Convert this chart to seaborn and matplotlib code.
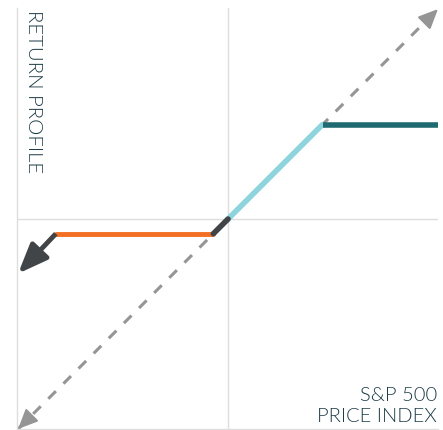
import matplotlib
matplotlib.use("Agg")
import matplotlib.pyplot as plt
import seaborn as sns
import pandas as pd

# ---- data ----
diag_x = [-100, 100]
diag_y = [-100, 100]
floor_x = [-82, -7]
floor_y = [-7, -7]
buffer_x = [-7, 0]
buffer_y = [-7, 0]
upside_x = [0, 45]
upside_y = [0, 45]
cap_x = [45, 100]
cap_y = [45, 45]
down_arrow_start = (-82, -7)
down_arrow_tip = (-100, -26)
y_label = "RETURN PROFILE"
x_label = "S&P 500\nPRICE INDEX"

sns.set_theme(style="white")
plt.rcParams['font.family'] = ['Lato', 'DejaVu Sans']

fig = plt.figure(figsize=(4.43, 4.30), dpi=100)
ax = fig.add_axes([17/443, 1/430, 421/443, 421/430])
ax.set_xlim(-100.5, 100)
ax.set_ylim(-100, 100.5)

grid_c = "#dedede"
ax.axvline(0, color=grid_c, lw=1, zorder=0)
ax.axhline(0, color=grid_c, lw=1, zorder=0)
for s in ["top", "right"]:
    ax.spines[s].set_visible(False)
for s in ["left", "bottom"]:
    ax.spines[s].set_color(grid_c)
    ax.spines[s].set_linewidth(1)
ax.set_xticks([]); ax.set_yticks([])

# dashed diagonal
gray = "#959595"
sns.lineplot(x=diag_x, y=diag_y, ax=ax, color=gray, lw=2.2,
             dashes=False, linestyle=(0, (3.5, 3.5)), zorder=1)
# gray arrow heads at both ends
for tip, back in [((diag_x[1], diag_y[1]), (diag_x[1] - 6, diag_y[1] - 6)),
                  ((diag_x[0], diag_y[0]), (diag_x[0] + 6, diag_y[0] + 6))]:
    ax.annotate("", xy=tip, xytext=back, annotation_clip=False,
                arrowprops=dict(arrowstyle="-|>,head_length=1.0,head_width=0.45",
                                color=gray, lw=1.5, shrinkA=0, shrinkB=0))

dark = "#414548"
sns.lineplot(x=floor_x, y=floor_y, ax=ax, color="#f36f24", lw=3.5, zorder=3)
sns.lineplot(x=buffer_x, y=buffer_y, ax=ax, color=dark, lw=4, zorder=4)
sns.lineplot(x=upside_x, y=upside_y, ax=ax, color="#8dd4dc", lw=4, zorder=3)
sns.lineplot(x=cap_x, y=cap_y, ax=ax, color="#1e6a70", lw=4, zorder=3,
             solid_capstyle="butt")

ax.annotate("", xy=down_arrow_tip, xytext=down_arrow_start, annotation_clip=False,
            arrowprops=dict(arrowstyle="-|>,head_length=1.5,head_width=0.6",
                            color=dark, lw=3.5, shrinkA=0, shrinkB=0,
                            capstyle="butt"), zorder=5)

txt_c = "#1a3a44"
fig.text(25/443, 1 - 10/430, y_label, rotation=-90, ha="left", va="top",
         fontsize=14.7, color=txt_c, fontweight=300)
fig.text(437/443, 1 - 425/430, x_label, ha="right", va="bottom",
         fontsize=14.5, color=txt_c, fontweight=300, linespacing=1.32,
         multialignment="right")

fig.savefig("out.png", dpi=100)
